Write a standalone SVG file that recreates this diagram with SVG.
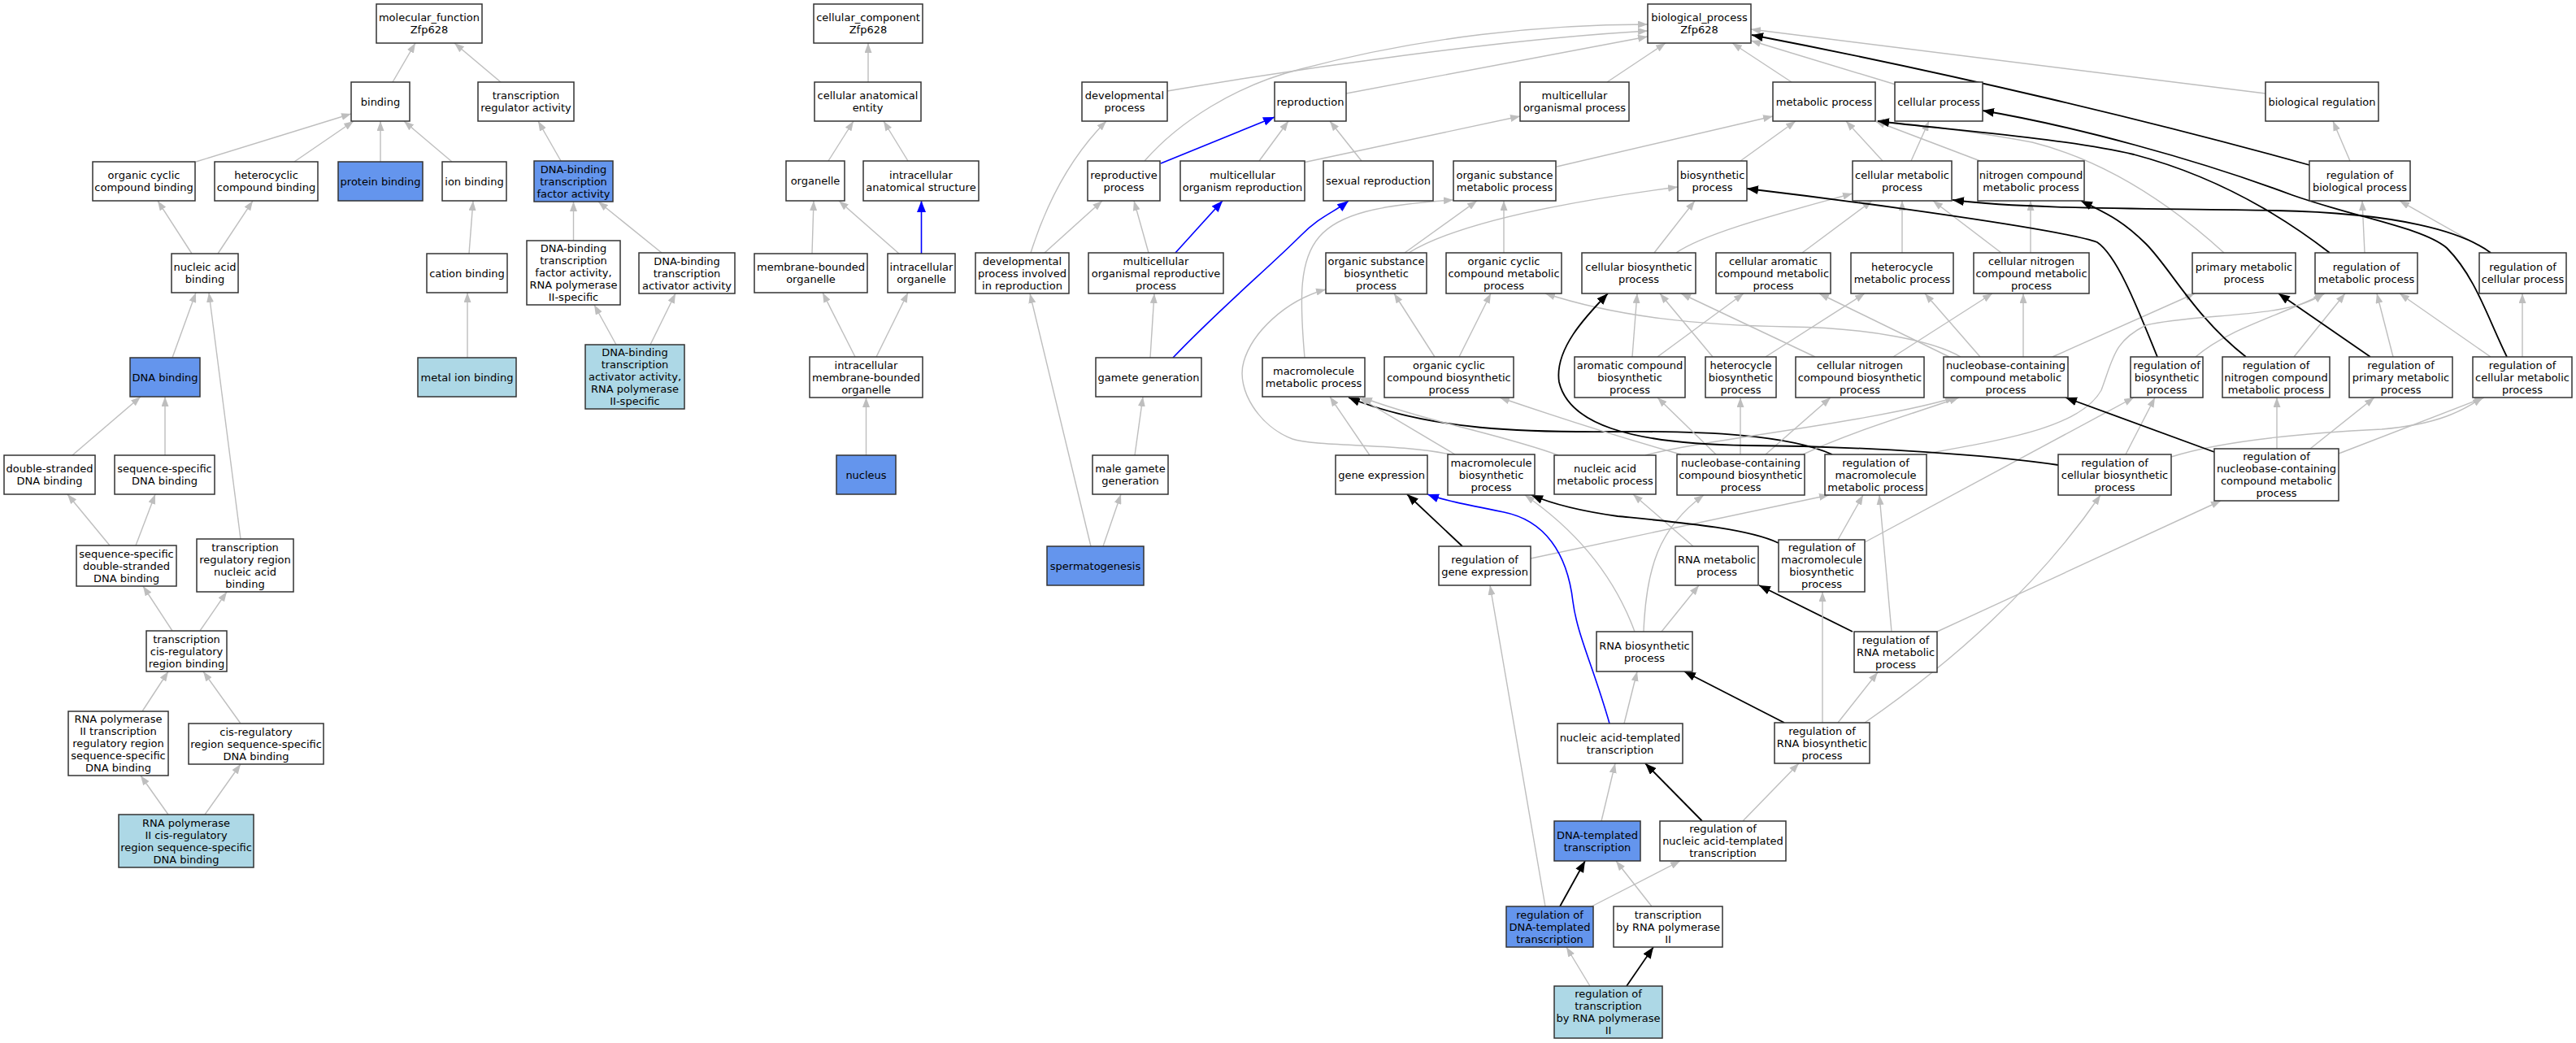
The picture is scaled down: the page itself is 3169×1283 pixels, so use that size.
<svg xmlns="http://www.w3.org/2000/svg" width="3169" height="1283" viewBox="0 0 3169 1283">
<style>
.n rect{fill:#ffffff;stroke:#333333;stroke-width:1.5}
.n.bl rect{fill:#6495ed}
.n.lb rect{fill:#add8e6}
text{font-family:"DejaVu Sans","Liberation Sans",sans-serif;font-size:13px;text-anchor:middle;fill:#000000}
#edges path{fill:none}
#edges .g{stroke:#bebebe;stroke-width:1.4;marker-end:url(#ag)}
#edges .k{stroke:#000000;stroke-width:1.8;marker-end:url(#ak)}
#edges .b{stroke:#0000ff;stroke-width:1.6;marker-end:url(#ab)}
</style>
<defs>
<marker id="ag" viewBox="0 0 12 9" refX="12" refY="4.5" markerWidth="12" markerHeight="9" markerUnits="userSpaceOnUse" orient="auto"><path d="M0,0L12,4.5L0,9z" fill="#bebebe"/></marker>
<marker id="ak" viewBox="0 0 14 11" refX="14" refY="5.5" markerWidth="14" markerHeight="11" markerUnits="userSpaceOnUse" orient="auto"><path d="M0,0L14,5.5L0,11z" fill="#000000"/></marker>
<marker id="ab" viewBox="0 0 14 11" refX="14" refY="5.5" markerWidth="14" markerHeight="11" markerUnits="userSpaceOnUse" orient="auto"><path d="M0,0L14,5.5L0,11z" fill="#0000ff"/></marker>
</defs>
<rect x="0" y="0" width="3169" height="1283" fill="#ffffff"/>
<g id="edges">
<path class="g" d="M483,101L511,53"/>
<path class="g" d="M616,101L559,53"/>
<path class="g" d="M241,199L432,140"/>
<path class="g" d="M362,199L435,149"/>
<path class="g" d="M468,199L468,149"/>
<path class="g" d="M556,199L497,149"/>
<path class="g" d="M690,198L662,149"/>
<path class="g" d="M236,312L194,247"/>
<path class="g" d="M268,312L311,247"/>
<path class="g" d="M577,312L582,247"/>
<path class="g" d="M705.5,296L705.5,248"/>
<path class="g" d="M814,311L736,248"/>
<path class="g" d="M758,424L731,375"/>
<path class="g" d="M800,424L831,361"/>
<path class="g" d="M212,440L241,360"/>
<path class="g" d="M296,663L257,360"/>
<path class="g" d="M575,440L575,360"/>
<path class="g" d="M89,560L173,488"/>
<path class="g" d="M203,560L203,488"/>
<path class="g" d="M135,671L83,608"/>
<path class="g" d="M167,671L191,608"/>
<path class="g" d="M212,776L176,721"/>
<path class="g" d="M246,776L279,728"/>
<path class="g" d="M175,875L207,826"/>
<path class="g" d="M296,890L250,826"/>
<path class="g" d="M207,1002L173,954"/>
<path class="g" d="M252,1002L296,940"/>
<path class="g" d="M1068,101L1068,53"/>
<path class="g" d="M1019,198L1050,149"/>
<path class="g" d="M1117,198L1087,149"/>
<path class="g" d="M999,312L1001,247"/>
<path class="g" d="M1106,312L1032,247"/>
<path class="b" d="M1133.5,312L1133.5,247"/>
<path class="g" d="M1052,439L1012,360"/>
<path class="g" d="M1078,439L1117,360"/>
<path class="g" d="M1065.5,560L1065.5,489"/>
<path class="g" d="M1436,112C1600,84 1850,48 2027,38"/>
<path class="g" d="M1408,198C1450,150 1520,105 1600,85C1750,45 1900,30 2027,30"/>
<path class="g" d="M1656,115L2027,45"/>
<path class="g" d="M1977,101L2049,53"/>
<path class="g" d="M2204,101L2131,53"/>
<path class="g" d="M2332,104L2154,50"/>
<path class="g" d="M2787,115L2154,36"/>
<path class="k" d="M2841,203C2650,150 2400,90 2155,43"/>
<path class="b" d="M1428,201L1568,144"/>
<path class="g" d="M1549,198L1585,149"/>
<path class="g" d="M1603,200L1870,143"/>
<path class="g" d="M1675,198L1636,149"/>
<path class="g" d="M1915,205L2181,143"/>
<path class="g" d="M2141,198L2209,149"/>
<path class="g" d="M2316,198L2271,149"/>
<path class="g" d="M2351,198L2373,149"/>
<path class="g" d="M2436,198L2307,149"/>
<path class="g" d="M2891,198L2870,149"/>
<path class="g" d="M1268,311Q1300,210 1361,149"/>
<path class="g" d="M1285,311L1356,247"/>
<path class="g" d="M1413,311L1395,247"/>
<path class="b" d="M1446,311L1504,247"/>
<path class="g" d="M1415,440L1420,361"/>
<path class="b" d="M1443,440C1500,380 1560,330 1600,290C1625,265 1640,262 1659,247"/>
<path class="g" d="M1728,311L1817,247"/>
<path class="g" d="M1733,311C1800,270 1950,245 2064,230"/>
<path class="g" d="M1850,311L1850,247"/>
<path class="g" d="M2035,311L2085,247"/>
<path class="g" d="M2062,311C2100,285 2200,260 2279,238"/>
<path class="g" d="M2217,311L2303,247"/>
<path class="g" d="M2340,311L2340,247"/>
<path class="g" d="M2462,311L2378,247"/>
<path class="g" d="M2498,311L2498,247"/>
<path class="g" d="M2736,311C2680,260 2600,200 2500,175C2420,160 2340,152 2306,149"/>
<path class="k" d="M2866,311C2800,260 2720,215 2625,190C2540,170 2400,160 2310,149"/>
<path class="g" d="M2909,311L2906,247"/>
<path class="g" d="M3065,311L2952,247"/>
<path class="k" d="M3064,311C3030,285 2950,262 2800,259C2650,256 2500,258 2402,246"/>
<path class="k" d="M3084,439C3060,390 3045,340 3010,305C2980,280 2900,268 2820,240C2700,195 2550,155 2439,136"/>
<path class="g" d="M1396,560L1406,488"/>
<path class="g" d="M1357,672L1379,608"/>
<path class="g" d="M1342,672L1267,361"/>
<path class="g" d="M1605,440C1592,290 1605,258 1788,246"/>
<path class="g" d="M1765,439L1715,361"/>
<path class="g" d="M1795,439L1834,361"/>
<path class="g" d="M2008,439L2014,361"/>
<path class="g" d="M2039,439L2145,361"/>
<path class="g" d="M2107,439L2042,361"/>
<path class="g" d="M2172,439L2294,361"/>
<path class="g" d="M2233,439L2068,361"/>
<path class="g" d="M2329,439L2451,361"/>
<path class="g" d="M2412,439C2380,420 2300,403 2200,402C2090,400 1990,390 1901,361"/>
<path class="g" d="M2398,439L2238,361"/>
<path class="g" d="M2436,439L2368,361"/>
<path class="g" d="M2489,439L2489,361"/>
<path class="g" d="M2525,439L2700,361"/>
<path class="k" d="M2654,439C2630,380 2605,315 2580,298C2540,283 2300,250 2149,232"/>
<path class="g" d="M2701,439C2740,405 2800,390 2860,361"/>
<path class="k" d="M2763,439C2700,390 2670,330 2640,300C2610,270 2590,262 2560,247"/>
<path class="g" d="M2822,439L2885,361"/>
<path class="g" d="M2944,439L2924,361"/>
<path class="k" d="M2916,439L2803,361"/>
<path class="g" d="M3064,439L2952,361"/>
<path class="g" d="M3103,439L3103,361"/>
<path class="g" d="M2370,558C2470,540 2560,525 2585,480C2600,440 2600,420 2640,400C2700,385 2820,392 2858,361"/>
<path class="g" d="M1685,560L1636,488"/>
<path class="k" d="M2254,559C2200,535 2100,530 1988,531C1880,532 1760,530 1659,489"/>
<path class="g" d="M1790,559L1672,489"/>
<path class="g" d="M1784,559C1720,545 1620,550 1590,540C1550,525 1520,480 1530,445C1540,410 1580,370 1631,356"/>
<path class="g" d="M1917,560C1850,535 1760,520 1676,489"/>
<path class="g" d="M2024,560C2100,540 2300,520 2405,489"/>
<path class="g" d="M2068,559C2000,540 1930,518 1845,489"/>
<path class="g" d="M2111,559L2039,489"/>
<path class="g" d="M2141,559L2141,489"/>
<path class="g" d="M2172,559L2252,489"/>
<path class="g" d="M2218,559C2280,530 2350,510 2410,489"/>
<path class="k" d="M1799,672L1731,608"/>
<path class="g" d="M1883,687C1990,665 2100,640 2250,609"/>
<path class="b" d="M1980,890C1960,820 1940,780 1935,740C1928,680 1900,640 1850,630C1800,620 1775,615 1756,608"/>
<path class="g" d="M2011,777C1990,720 1950,660 1876,609"/>
<path class="g" d="M2022,777C2025,700 2040,650 2096,609"/>
<path class="g" d="M2044,777L2090,720"/>
<path class="g" d="M2083,672L2009,608"/>
<path class="k" d="M2279,777L2164,720"/>
<path class="g" d="M2327,777L2312,609"/>
<path class="g" d="M2383,777L2732,616"/>
<path class="k" d="M2188,668C2150,650 2070,643 1990,635C1940,628 1910,620 1884,609"/>
<path class="g" d="M2261,664L2292,609"/>
<path class="g" d="M2294,667L2625,489"/>
<path class="g" d="M2242,889L2242,728"/>
<path class="g" d="M2261,889L2310,827"/>
<path class="g" d="M2294,889Q2480,760 2584,609"/>
<path class="k" d="M2195,889L2072,826"/>
<path class="k" d="M2532,572C2450,560 2300,549 2150,548C2000,546 1930,520 1918,470C1912,430 1950,390 1978,361"/>
<path class="g" d="M2615,559L2651,489"/>
<path class="g" d="M2671,562C2740,540 2850,532 2930,528C3000,522 3030,505 3054,489"/>
<path class="k" d="M2724,556L2541,489"/>
<path class="g" d="M2801,552L2801,489"/>
<path class="g" d="M2842,552L2921,489"/>
<path class="g" d="M2877,558L3056,489"/>
<path class="g" d="M1998,890L2014,826"/>
<path class="k" d="M2094,1010L2024,939"/>
<path class="g" d="M2144,1010L2213,939"/>
<path class="g" d="M1970,1010L1987,939"/>
<path class="k" d="M1919,1115L1950,1059"/>
<path class="g" d="M1958,1115L2067,1059"/>
<path class="g" d="M1901,1115L1833,720"/>
<path class="g" d="M2032,1115L1988,1059"/>
<path class="g" d="M1956,1213L1927,1165"/>
<path class="k" d="M2001,1213L2034,1165"/>
</g>
<g id="n_mf" class="n"><rect x="463" y="5" width="130" height="48"/><text x="528" y="26"><tspan x="528">molecular_function</tspan><tspan x="528" dy="15">Zfp628</tspan></text></g>
<g id="n_binding" class="n"><rect x="432" y="101" width="72" height="48"/><text x="468" y="129.5">binding</text></g>
<g id="n_tra" class="n"><rect x="588" y="101" width="118" height="48"/><text x="647" y="122"><tspan x="647">transcription</tspan><tspan x="647" dy="15">regulator activity</tspan></text></g>
<g id="n_occb" class="n"><rect x="114" y="199" width="126" height="48"/><text x="177" y="220"><tspan x="177">organic cyclic</tspan><tspan x="177" dy="15">compound binding</tspan></text></g>
<g id="n_hcb" class="n"><rect x="264" y="199" width="127" height="48"/><text x="327.5" y="220"><tspan x="327.5">heterocyclic</tspan><tspan x="327.5" dy="15">compound binding</tspan></text></g>
<g id="n_pb" class="n bl"><rect x="416" y="199" width="104" height="48"/><text x="468" y="227.5">protein binding</text></g>
<g id="n_ionb" class="n"><rect x="544" y="199" width="79" height="48"/><text x="583.5" y="227.5">ion binding</text></g>
<g id="n_dbtf" class="n bl"><rect x="657" y="198" width="97" height="50"/><text x="705.5" y="212.5"><tspan x="705.5">DNA-binding</tspan><tspan x="705.5" dy="15">transcription</tspan><tspan x="705.5" dy="15">factor activity</tspan></text></g>
<g id="n_nab" class="n"><rect x="211" y="312" width="82" height="48"/><text x="252" y="333"><tspan x="252">nucleic acid</tspan><tspan x="252" dy="15">binding</tspan></text></g>
<g id="n_catb" class="n"><rect x="525" y="312" width="99" height="48"/><text x="574.5" y="340.5">cation binding</text></g>
<g id="n_dbtf2" class="n"><rect x="648" y="296" width="115" height="79"/><text x="705.5" y="310"><tspan x="705.5">DNA-binding</tspan><tspan x="705.5" dy="15">transcription</tspan><tspan x="705.5" dy="15">factor activity,</tspan><tspan x="705.5" dy="15">RNA polymerase</tspan><tspan x="705.5" dy="15">II-specific</tspan></text></g>
<g id="n_dbta" class="n"><rect x="786" y="311" width="118" height="50"/><text x="845" y="325.5"><tspan x="845">DNA-binding</tspan><tspan x="845" dy="15">transcription</tspan><tspan x="845" dy="15">activator activity</tspan></text></g>
<g id="n_db" class="n bl"><rect x="160" y="440" width="86" height="48"/><text x="203" y="468.5">DNA binding</text></g>
<g id="n_mib" class="n lb"><rect x="514" y="440" width="121" height="48"/><text x="574.5" y="468.5">metal ion binding</text></g>
<g id="n_dbta2" class="n lb"><rect x="720" y="424" width="122" height="79"/><text x="781" y="438"><tspan x="781">DNA-binding</tspan><tspan x="781" dy="15">transcription</tspan><tspan x="781" dy="15">activator activity,</tspan><tspan x="781" dy="15">RNA polymerase</tspan><tspan x="781" dy="15">II-specific</tspan></text></g>
<g id="n_dsdb" class="n"><rect x="5" y="560" width="112" height="48"/><text x="61" y="581"><tspan x="61">double-stranded</tspan><tspan x="61" dy="15">DNA binding</tspan></text></g>
<g id="n_ssdb" class="n"><rect x="141" y="560" width="123" height="48"/><text x="202.5" y="581"><tspan x="202.5">sequence-specific</tspan><tspan x="202.5" dy="15">DNA binding</tspan></text></g>
<g id="n_ssdsdb" class="n"><rect x="94" y="671" width="123" height="50"/><text x="155.5" y="685.5"><tspan x="155.5">sequence-specific</tspan><tspan x="155.5" dy="15">double-stranded</tspan><tspan x="155.5" dy="15">DNA binding</tspan></text></g>
<g id="n_trrnab" class="n"><rect x="242" y="663" width="119" height="65"/><text x="301.5" y="677.5"><tspan x="301.5">transcription</tspan><tspan x="301.5" dy="15">regulatory region</tspan><tspan x="301.5" dy="15">nucleic acid</tspan><tspan x="301.5" dy="15">binding</tspan></text></g>
<g id="n_tcrrb" class="n"><rect x="180" y="776" width="99" height="50"/><text x="229.5" y="790.5"><tspan x="229.5">transcription</tspan><tspan x="229.5" dy="15">cis-regulatory</tspan><tspan x="229.5" dy="15">region binding</tspan></text></g>
<g id="n_rp2trr" class="n"><rect x="84" y="875" width="123" height="79"/><text x="145.5" y="889"><tspan x="145.5">RNA polymerase</tspan><tspan x="145.5" dy="15">II transcription</tspan><tspan x="145.5" dy="15">regulatory region</tspan><tspan x="145.5" dy="15">sequence-specific</tspan><tspan x="145.5" dy="15">DNA binding</tspan></text></g>
<g id="n_crrssdb" class="n"><rect x="232" y="890" width="166" height="50"/><text x="315" y="904.5"><tspan x="315">cis-regulatory</tspan><tspan x="315" dy="15">region sequence-specific</tspan><tspan x="315" dy="15">DNA binding</tspan></text></g>
<g id="n_rp2crr" class="n lb"><rect x="146" y="1002" width="166" height="65"/><text x="229" y="1016.5"><tspan x="229">RNA polymerase</tspan><tspan x="229" dy="15">II cis-regulatory</tspan><tspan x="229" dy="15">region sequence-specific</tspan><tspan x="229" dy="15">DNA binding</tspan></text></g>
<g id="n_cc" class="n"><rect x="1001" y="5" width="134" height="48"/><text x="1068" y="26"><tspan x="1068">cellular_component</tspan><tspan x="1068" dy="15">Zfp628</tspan></text></g>
<g id="n_cae" class="n"><rect x="1002" y="101" width="131" height="48"/><text x="1067.5" y="122"><tspan x="1067.5">cellular anatomical</tspan><tspan x="1067.5" dy="15">entity</tspan></text></g>
<g id="n_org" class="n"><rect x="967" y="198" width="72" height="49"/><text x="1003" y="227">organelle</text></g>
<g id="n_ias" class="n"><rect x="1062" y="198" width="142" height="49"/><text x="1133" y="219.5"><tspan x="1133">intracellular</tspan><tspan x="1133" dy="15">anatomical structure</tspan></text></g>
<g id="n_mbo" class="n"><rect x="928" y="312" width="139" height="48"/><text x="997.5" y="333"><tspan x="997.5">membrane-bounded</tspan><tspan x="997.5" dy="15">organelle</tspan></text></g>
<g id="n_io" class="n"><rect x="1092" y="312" width="83" height="48"/><text x="1133.5" y="333"><tspan x="1133.5">intracellular</tspan><tspan x="1133.5" dy="15">organelle</tspan></text></g>
<g id="n_imbo" class="n"><rect x="996" y="439" width="139" height="50"/><text x="1065.5" y="453.5"><tspan x="1065.5">intracellular</tspan><tspan x="1065.5" dy="15">membrane-bounded</tspan><tspan x="1065.5" dy="15">organelle</tspan></text></g>
<g id="n_nucleus" class="n bl"><rect x="1029" y="560" width="73" height="48"/><text x="1065.5" y="588.5">nucleus</text></g>
<g id="n_bp" class="n"><rect x="2027" y="5" width="127" height="48"/><text x="2090.5" y="26"><tspan x="2090.5">biological_process</tspan><tspan x="2090.5" dy="15">Zfp628</tspan></text></g>
<g id="n_dev" class="n"><rect x="1331" y="101" width="105" height="48"/><text x="1383.5" y="122"><tspan x="1383.5">developmental</tspan><tspan x="1383.5" dy="15">process</tspan></text></g>
<g id="n_repro" class="n"><rect x="1568" y="101" width="88" height="48"/><text x="1612" y="129.5">reproduction</text></g>
<g id="n_mop" class="n"><rect x="1870" y="101" width="134" height="48"/><text x="1937" y="122"><tspan x="1937">multicellular</tspan><tspan x="1937" dy="15">organismal process</tspan></text></g>
<g id="n_met" class="n"><rect x="2181" y="101" width="126" height="48"/><text x="2244" y="129.5">metabolic process</text></g>
<g id="n_cp" class="n"><rect x="2331" y="101" width="108" height="48"/><text x="2385" y="129.5">cellular process</text></g>
<g id="n_breg" class="n"><rect x="2787" y="101" width="139" height="48"/><text x="2856.5" y="129.5">biological regulation</text></g>
<g id="n_rp" class="n"><rect x="1338" y="198" width="89" height="49"/><text x="1382.5" y="219.5"><tspan x="1382.5">reproductive</tspan><tspan x="1382.5" dy="15">process</tspan></text></g>
<g id="n_mor" class="n"><rect x="1452" y="198" width="153" height="49"/><text x="1528.5" y="219.5"><tspan x="1528.5">multicellular</tspan><tspan x="1528.5" dy="15">organism reproduction</tspan></text></g>
<g id="n_sr" class="n"><rect x="1628" y="198" width="135" height="49"/><text x="1695.5" y="227">sexual reproduction</text></g>
<g id="n_osm" class="n"><rect x="1788" y="198" width="126" height="49"/><text x="1851" y="219.5"><tspan x="1851">organic substance</tspan><tspan x="1851" dy="15">metabolic process</tspan></text></g>
<g id="n_bs" class="n"><rect x="2064" y="198" width="85" height="49"/><text x="2106.5" y="219.5"><tspan x="2106.5">biosynthetic</tspan><tspan x="2106.5" dy="15">process</tspan></text></g>
<g id="n_cm" class="n"><rect x="2279" y="198" width="122" height="49"/><text x="2340" y="219.5"><tspan x="2340">cellular metabolic</tspan><tspan x="2340" dy="15">process</tspan></text></g>
<g id="n_ncm" class="n"><rect x="2433" y="198" width="131" height="49"/><text x="2498.5" y="219.5"><tspan x="2498.5">nitrogen compound</tspan><tspan x="2498.5" dy="15">metabolic process</tspan></text></g>
<g id="n_rbp" class="n"><rect x="2841" y="198" width="124" height="49"/><text x="2903" y="219.5"><tspan x="2903">regulation of</tspan><tspan x="2903" dy="15">biological process</tspan></text></g>
<g id="n_dpir" class="n"><rect x="1200" y="311" width="115" height="50"/><text x="1257.5" y="325.5"><tspan x="1257.5">developmental</tspan><tspan x="1257.5" dy="15">process involved</tspan><tspan x="1257.5" dy="15">in reproduction</tspan></text></g>
<g id="n_morp" class="n"><rect x="1339" y="311" width="166" height="50"/><text x="1422" y="325.5"><tspan x="1422">multicellular</tspan><tspan x="1422" dy="15">organismal reproductive</tspan><tspan x="1422" dy="15">process</tspan></text></g>
<g id="n_osb" class="n"><rect x="1631" y="311" width="124" height="50"/><text x="1693" y="325.5"><tspan x="1693">organic substance</tspan><tspan x="1693" dy="15">biosynthetic</tspan><tspan x="1693" dy="15">process</tspan></text></g>
<g id="n_occm" class="n"><rect x="1779" y="311" width="142" height="50"/><text x="1850" y="325.5"><tspan x="1850">organic cyclic</tspan><tspan x="1850" dy="15">compound metabolic</tspan><tspan x="1850" dy="15">process</tspan></text></g>
<g id="n_cb" class="n"><rect x="1946" y="311" width="140" height="50"/><text x="2016" y="333"><tspan x="2016">cellular biosynthetic</tspan><tspan x="2016" dy="15">process</tspan></text></g>
<g id="n_cacm" class="n"><rect x="2111" y="311" width="141" height="50"/><text x="2181.5" y="325.5"><tspan x="2181.5">cellular aromatic</tspan><tspan x="2181.5" dy="15">compound metabolic</tspan><tspan x="2181.5" dy="15">process</tspan></text></g>
<g id="n_hm" class="n"><rect x="2277" y="311" width="126" height="50"/><text x="2340" y="333"><tspan x="2340">heterocycle</tspan><tspan x="2340" dy="15">metabolic process</tspan></text></g>
<g id="n_cncm" class="n"><rect x="2428" y="311" width="142" height="50"/><text x="2499" y="325.5"><tspan x="2499">cellular nitrogen</tspan><tspan x="2499" dy="15">compound metabolic</tspan><tspan x="2499" dy="15">process</tspan></text></g>
<g id="n_pm" class="n"><rect x="2697" y="311" width="127" height="50"/><text x="2760.5" y="333"><tspan x="2760.5">primary metabolic</tspan><tspan x="2760.5" dy="15">process</tspan></text></g>
<g id="n_rm" class="n"><rect x="2848" y="311" width="126" height="50"/><text x="2911" y="333"><tspan x="2911">regulation of</tspan><tspan x="2911" dy="15">metabolic process</tspan></text></g>
<g id="n_rcp" class="n"><rect x="3050" y="311" width="107" height="50"/><text x="3103.5" y="333"><tspan x="3103.5">regulation of</tspan><tspan x="3103.5" dy="15">cellular process</tspan></text></g>
<g id="n_gg" class="n"><rect x="1348" y="440" width="130" height="48"/><text x="1413" y="468.5">gamete generation</text></g>
<g id="n_mm" class="n"><rect x="1553" y="440" width="126" height="48"/><text x="1616" y="461"><tspan x="1616">macromolecule</tspan><tspan x="1616" dy="15">metabolic process</tspan></text></g>
<g id="n_occb2" class="n"><rect x="1703" y="439" width="159" height="50"/><text x="1782.5" y="453.5"><tspan x="1782.5">organic cyclic</tspan><tspan x="1782.5" dy="15">compound biosynthetic</tspan><tspan x="1782.5" dy="15">process</tspan></text></g>
<g id="n_acb" class="n"><rect x="1937" y="439" width="136" height="50"/><text x="2005" y="453.5"><tspan x="2005">aromatic compound</tspan><tspan x="2005" dy="15">biosynthetic</tspan><tspan x="2005" dy="15">process</tspan></text></g>
<g id="n_hb" class="n"><rect x="2098" y="439" width="87" height="50"/><text x="2141.5" y="453.5"><tspan x="2141.5">heterocycle</tspan><tspan x="2141.5" dy="15">biosynthetic</tspan><tspan x="2141.5" dy="15">process</tspan></text></g>
<g id="n_cncb" class="n"><rect x="2209" y="439" width="158" height="50"/><text x="2288" y="453.5"><tspan x="2288">cellular nitrogen</tspan><tspan x="2288" dy="15">compound biosynthetic</tspan><tspan x="2288" dy="15">process</tspan></text></g>
<g id="n_nbcm" class="n"><rect x="2391" y="439" width="153" height="50"/><text x="2467.5" y="453.5"><tspan x="2467.5">nucleobase-containing</tspan><tspan x="2467.5" dy="15">compound metabolic</tspan><tspan x="2467.5" dy="15">process</tspan></text></g>
<g id="n_rbs" class="n"><rect x="2621" y="439" width="89" height="50"/><text x="2665.5" y="453.5"><tspan x="2665.5">regulation of</tspan><tspan x="2665.5" dy="15">biosynthetic</tspan><tspan x="2665.5" dy="15">process</tspan></text></g>
<g id="n_rncm" class="n"><rect x="2734" y="439" width="132" height="50"/><text x="2800" y="453.5"><tspan x="2800">regulation of</tspan><tspan x="2800" dy="15">nitrogen compound</tspan><tspan x="2800" dy="15">metabolic process</tspan></text></g>
<g id="n_rpm" class="n"><rect x="2890" y="439" width="127" height="50"/><text x="2953.5" y="453.5"><tspan x="2953.5">regulation of</tspan><tspan x="2953.5" dy="15">primary metabolic</tspan><tspan x="2953.5" dy="15">process</tspan></text></g>
<g id="n_rcm" class="n"><rect x="3042" y="439" width="122" height="50"/><text x="3103" y="453.5"><tspan x="3103">regulation of</tspan><tspan x="3103" dy="15">cellular metabolic</tspan><tspan x="3103" dy="15">process</tspan></text></g>
<g id="n_mgg" class="n"><rect x="1344" y="560" width="93" height="48"/><text x="1390.5" y="581"><tspan x="1390.5">male gamete</tspan><tspan x="1390.5" dy="15">generation</tspan></text></g>
<g id="n_ge" class="n"><rect x="1643" y="560" width="113" height="48"/><text x="1699.5" y="588.5">gene expression</text></g>
<g id="n_mb" class="n"><rect x="1781" y="559" width="107" height="50"/><text x="1834.5" y="573.5"><tspan x="1834.5">macromolecule</tspan><tspan x="1834.5" dy="15">biosynthetic</tspan><tspan x="1834.5" dy="15">process</tspan></text></g>
<g id="n_nam" class="n"><rect x="1912" y="560" width="125" height="48"/><text x="1974.5" y="581"><tspan x="1974.5">nucleic acid</tspan><tspan x="1974.5" dy="15">metabolic process</tspan></text></g>
<g id="n_nbcb" class="n"><rect x="2063" y="559" width="157" height="50"/><text x="2141.5" y="573.5"><tspan x="2141.5">nucleobase-containing</tspan><tspan x="2141.5" dy="15">compound biosynthetic</tspan><tspan x="2141.5" dy="15">process</tspan></text></g>
<g id="n_rmm" class="n"><rect x="2245" y="559" width="125" height="50"/><text x="2307.5" y="573.5"><tspan x="2307.5">regulation of</tspan><tspan x="2307.5" dy="15">macromolecule</tspan><tspan x="2307.5" dy="15">metabolic process</tspan></text></g>
<g id="n_rcb" class="n"><rect x="2532" y="559" width="139" height="50"/><text x="2601.5" y="573.5"><tspan x="2601.5">regulation of</tspan><tspan x="2601.5" dy="15">cellular biosynthetic</tspan><tspan x="2601.5" dy="15">process</tspan></text></g>
<g id="n_rnbcm" class="n"><rect x="2724" y="552" width="153" height="64"/><text x="2800.5" y="566"><tspan x="2800.5">regulation of</tspan><tspan x="2800.5" dy="15">nucleobase-containing</tspan><tspan x="2800.5" dy="15">compound metabolic</tspan><tspan x="2800.5" dy="15">process</tspan></text></g>
<g id="n_sperm" class="n bl"><rect x="1288" y="672" width="119" height="48"/><text x="1347.5" y="700.5">spermatogenesis</text></g>
<g id="n_rge" class="n"><rect x="1770" y="672" width="113" height="48"/><text x="1826.5" y="693"><tspan x="1826.5">regulation of</tspan><tspan x="1826.5" dy="15">gene expression</tspan></text></g>
<g id="n_rnam" class="n"><rect x="2061" y="672" width="102" height="48"/><text x="2112" y="693"><tspan x="2112">RNA metabolic</tspan><tspan x="2112" dy="15">process</tspan></text></g>
<g id="n_rmb" class="n"><rect x="2188" y="664" width="106" height="64"/><text x="2241" y="678"><tspan x="2241">regulation of</tspan><tspan x="2241" dy="15">macromolecule</tspan><tspan x="2241" dy="15">biosynthetic</tspan><tspan x="2241" dy="15">process</tspan></text></g>
<g id="n_rnab" class="n"><rect x="1964" y="777" width="118" height="49"/><text x="2023" y="798.5"><tspan x="2023">RNA biosynthetic</tspan><tspan x="2023" dy="15">process</tspan></text></g>
<g id="n_rrm" class="n"><rect x="2281" y="777" width="102" height="50"/><text x="2332" y="791.5"><tspan x="2332">regulation of</tspan><tspan x="2332" dy="15">RNA metabolic</tspan><tspan x="2332" dy="15">process</tspan></text></g>
<g id="n_natt" class="n"><rect x="1916" y="890" width="154" height="49"/><text x="1993" y="911.5"><tspan x="1993">nucleic acid-templated</tspan><tspan x="1993" dy="15">transcription</tspan></text></g>
<g id="n_rrb" class="n"><rect x="2183" y="889" width="117" height="50"/><text x="2241.5" y="903.5"><tspan x="2241.5">regulation of</tspan><tspan x="2241.5" dy="15">RNA biosynthetic</tspan><tspan x="2241.5" dy="15">process</tspan></text></g>
<g id="n_dtt" class="n bl"><rect x="1912" y="1010" width="106" height="49"/><text x="1965" y="1031.5"><tspan x="1965">DNA-templated</tspan><tspan x="1965" dy="15">transcription</tspan></text></g>
<g id="n_rnatt" class="n"><rect x="2042" y="1010" width="155" height="49"/><text x="2119.5" y="1024"><tspan x="2119.5">regulation of</tspan><tspan x="2119.5" dy="15">nucleic acid-templated</tspan><tspan x="2119.5" dy="15">transcription</tspan></text></g>
<g id="n_rdtt" class="n bl"><rect x="1853" y="1115" width="107" height="50"/><text x="1906.5" y="1129.5"><tspan x="1906.5">regulation of</tspan><tspan x="1906.5" dy="15">DNA-templated</tspan><tspan x="1906.5" dy="15">transcription</tspan></text></g>
<g id="n_trp2" class="n"><rect x="1985" y="1115" width="134" height="50"/><text x="2052" y="1129.5"><tspan x="2052">transcription</tspan><tspan x="2052" dy="15">by RNA polymerase</tspan><tspan x="2052" dy="15">II</tspan></text></g>
<g id="n_rtrp2" class="n lb"><rect x="1912" y="1213" width="133" height="64"/><text x="1978.5" y="1227"><tspan x="1978.5">regulation of</tspan><tspan x="1978.5" dy="15">transcription</tspan><tspan x="1978.5" dy="15">by RNA polymerase</tspan><tspan x="1978.5" dy="15">II</tspan></text></g>
</svg>
